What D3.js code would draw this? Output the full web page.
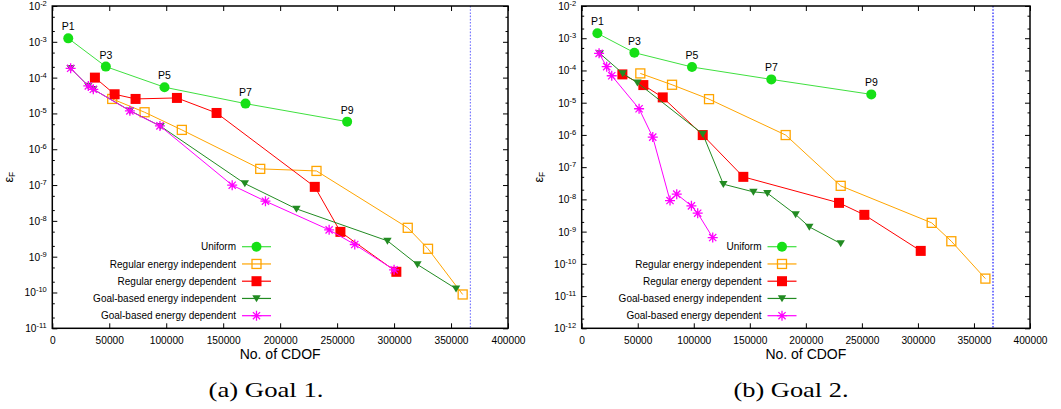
<!DOCTYPE html>
<html>
<head>
<meta charset="utf-8">
<script src="https://cdn.jsdelivr.net/npm/d3@7"></script>
<style>
  body { margin: 0; background: #fff; }
  svg { display: block; }
</style>
</head>
<body>
<svg id="chart" width="1061" height="409"></svg>
<script>
// ---------------- DATA ----------------
const seriesNames = [
  "Uniform",
  "Regular energy independent",
  "Regular energy dependent",
  "Goal-based energy independent",
  "Goal-based energy dependent"
];
const uniformLabels = ["P1", "P3", "P5", "P7", "P9"];
const xTickValues = [0, 50000, 100000, 150000, 200000, 250000, 300000, 350000, 400000];
const captions = ["(a) Goal 1.", "(b) Goal 2."];
const referenceCDOF = 367000;
const xAxisTitle = "No. of CDOF";

// Goal 1  [CDOF, error]
const goal1Uniform = [[14000, 1.25e-3], [47000, 2.03e-4], [98500, 5.4e-5], [169600, 1.88e-5], [258800, 5.9e-6]];
const goal1RegularIndep = [[52600, 2.54e-5], [81000, 1.08e-5], [113700, 3.47e-6], [182500, 2.83e-7], [231900, 2.48e-7], [312000, 6.4e-9], [329800, 1.66e-9], [360200, 8.8e-11]];
const goal1RegularDep = [[37400, 1.0e-4], [54700, 3.43e-5], [73100, 2.54e-5], [109400, 2.71e-5], [144200, 1.03e-5], [230400, 8.9e-8], [252900, 4.93e-9], [302000, 3.78e-10]];
const goal1GoalIndep = [[16100, 1.82e-4], [31600, 5.85e-5], [36000, 4.72e-5], [68100, 1.2e-5], [95000, 4.4e-6], [169000, 1.1e-7], [214300, 2.16e-8], [294200, 2.77e-9], [320500, 6.04e-10], [354400, 1.27e-10]];
const goal1GoalDep = [[16100, 1.82e-4], [31600, 5.85e-5], [36000, 4.72e-5], [68100, 1.18e-5], [94500, 4.48e-6], [157900, 9.9e-8], [187100, 3.54e-8], [243000, 5.61e-9], [265500, 2.19e-9], [300000, 4.3e-10]];

// Goal 2  [CDOF, error]
const goal2Uniform = [[14000, 1.42e-3], [47000, 3.56e-4], [98400, 1.28e-4], [169200, 5.28e-5], [258400, 1.81e-5]];
const goal2RegularIndep = [[52300, 8.1e-5], [80600, 3.6e-5], [113600, 1.29e-5], [182000, 9.9e-7], [231100, 2.63e-8], [312300, 1.87e-9], [329800, 5.03e-10], [360200, 3.48e-11]];
const goal2RegularDep = [[36300, 7.55e-5], [55000, 3.52e-5], [72300, 1.46e-5], [108000, 9.9e-7], [144200, 5.0e-8], [229600, 7.8e-9], [252200, 3.31e-9], [302500, 2.52e-10]];
const goal2GoalIndep = [[16100, 3.39e-4], [36600, 8.1e-5], [49700, 4.16e-5], [108000, 1.07e-6], [126400, 2.96e-8], [153200, 1.71e-8], [165700, 1.56e-8], [190900, 3.39e-9], [203100, 1.4e-9], [231100, 4.26e-10]];
const goal2GoalDep = [[15500, 3.39e-4], [22300, 1.31e-4], [26800, 6.86e-5], [51200, 6.49e-6], [63400, 8.55e-7], [78800, 9.2e-9], [84800, 1.45e-8], [97900, 6.3e-9], [103500, 3.72e-9], [116900, 6.55e-10]];

// ---------------- STYLE ----------------
const SANS = "'Liberation Sans', Arial, Helvetica, sans-serif";
const SERIF = "'Liberation Serif', 'Times New Roman', serif";
const seriesStyle = [
  { line: "#3fe03f", color: "#16e016", marker: "circle" },
  { line: "#ffa500", color: "#ffa500", marker: "openSquare" },
  { line: "#ff0000", color: "#ff0000", marker: "filledSquare" },
  { line: "#228b22", color: "#228b22", marker: "triangle" },
  { line: "#ff00ff", color: "#ff00ff", marker: "asterisk" }
];

const svg = d3.select("#chart");

function drawMarker(g, type, color, cx, cy) {
  if (type === "circle") {
    g.append("circle").attr("cx", cx).attr("cy", cy).attr("r", 5).attr("fill", color);
  } else if (type === "openSquare") {
    g.append("rect").attr("x", cx - 4.5).attr("y", cy - 4.5).attr("width", 9).attr("height", 9)
      .attr("fill", "none").attr("stroke", color).attr("stroke-width", 1.3);
  } else if (type === "filledSquare") {
    g.append("rect").attr("x", cx - 5).attr("y", cy - 5).attr("width", 10).attr("height", 10)
      .attr("fill", color);
  } else if (type === "triangle") {
    g.append("path").attr("d", `M${cx - 4.2},${cy - 3.2}L${cx + 4.2},${cy - 3.2}L${cx},${cy + 3.8}Z`)
      .attr("fill", color);
  } else if (type === "asterisk") {
    const r = 5, d = 3.6;
    g.append("path")
      .attr("d", `M${cx - r},${cy}L${cx + r},${cy}M${cx},${cy - r}L${cx},${cy + r}` +
                 `M${cx - d},${cy - d}L${cx + d},${cy + d}M${cx - d},${cy + d}L${cx + d},${cy - d}`)
      .attr("stroke", color).attr("stroke-width", 1.3).attr("fill", "none");
  }
}

function drawPanel(cfg) {
  const x = d3.scaleLinear().domain([0, 400000]).range([cfg.left, cfg.right]);
  const y = d3.scaleLog().domain([Math.pow(10, cfg.yMinExp), 1e-2]).range([cfg.bottom, cfg.top]);
  const g = svg.append("g");

  const majors = d3.range(cfg.yMinExp, -1).map(e => Math.pow(10, e));
  const minors = [];
  for (let e = cfg.yMinExp; e < -2; e++) {
    minors.push(2 * Math.pow(10, e), 5 * Math.pow(10, e));
  }

  const styleAxis = sel => {
    sel.select(".domain").remove();
    sel.selectAll(".tick line").attr("stroke", "#000").attr("stroke-width", 1);
  };

  // y axes (left & right), major + minor, inward
  g.append("g").attr("transform", `translate(${cfg.left},0)`)
    .call(d3.axisLeft(y).tickValues(majors).tickSize(-5).tickFormat("")).call(styleAxis);
  g.append("g").attr("transform", `translate(${cfg.left},0)`)
    .call(d3.axisLeft(y).tickValues(minors).tickSize(-2.5).tickFormat("")).call(styleAxis);
  g.append("g").attr("transform", `translate(${cfg.right},0)`)
    .call(d3.axisRight(y).tickValues(majors).tickSize(-5).tickFormat("")).call(styleAxis);
  g.append("g").attr("transform", `translate(${cfg.right},0)`)
    .call(d3.axisRight(y).tickValues(minors).tickSize(-2.5).tickFormat("")).call(styleAxis);

  // x axes (bottom with labels, top without)
  const xb = g.append("g").attr("transform", `translate(0,${cfg.bottom})`)
    .call(d3.axisBottom(x).tickValues(xTickValues).tickSize(-5).tickPadding(8.5).tickFormat(d3.format("d")))
    .call(styleAxis);
  xb.selectAll(".tick text").attr("font-family", SANS).attr("font-size", 10.2).attr("fill", "#000");
  g.append("g").attr("transform", `translate(0,${cfg.top})`)
    .call(d3.axisTop(x).tickValues(xTickValues).tickSize(-5).tickFormat("")).call(styleAxis);

  // y tick labels with superscript exponents
  majors.forEach(v => {
    const e = Math.round(Math.log10(v));
    const t = g.append("text")
      .attr("x", cfg.left - 5.5).attr("y", y(v) + 4)
      .attr("text-anchor", "end").attr("font-family", SANS).attr("font-size", 10.2).attr("fill", "#000");
    t.append("tspan").text("10");
    t.append("tspan").attr("dy", -4).attr("font-size", 7.5).text("-" + Math.abs(e));
  });

  // reference dotted line
  g.append("line")
    .attr("x1", x(referenceCDOF)).attr("x2", x(referenceCDOF))
    .attr("y1", cfg.top).attr("y2", cfg.bottom)
    .attr("stroke", cfg.refColor).attr("stroke-width", 1.2).attr("stroke-dasharray", "1.6,1.6");

  // series
  const line = d3.line().x(d => x(d[0])).y(d => y(d[1]));
  cfg.series.forEach((data, i) => {
    const st = seriesStyle[i];
    g.append("path").datum(data).attr("d", line)
      .attr("fill", "none").attr("stroke", st.line).attr("stroke-width", 1);
    const mg = g.append("g");
    data.forEach(d => drawMarker(mg, st.marker, st.color, x(d[0]), y(d[1])));
  });

  // P labels on uniform series
  cfg.series[0].forEach((d, i) => {
    g.append("text").attr("x", x(d[0])).attr("y", y(d[1]) - 8)
      .attr("text-anchor", "middle").attr("font-family", SANS).attr("font-size", 10.5)
      .attr("fill", "#000").text(uniformLabels[i]);
  });

  // border
  g.append("rect").attr("x", cfg.left).attr("y", cfg.top)
    .attr("width", cfg.right - cfg.left).attr("height", cfg.bottom - cfg.top)
    .attr("fill", "none").attr("stroke", "#000").attr("stroke-width", 1.5);

  // legend
  seriesNames.forEach((name, i) => {
    const st = seriesStyle[i];
    const ly = cfg.legendTop + i * 17.25;
    g.append("text").attr("x", cfg.legendTextEnd).attr("y", ly + 3.6)
      .attr("text-anchor", "end").attr("font-family", SANS).attr("font-size", 10)
      .attr("fill", "#000").text(name);
    g.append("line").attr("x1", cfg.legendTextEnd + 6).attr("x2", cfg.legendTextEnd + 35)
      .attr("y1", ly).attr("y2", ly).attr("stroke", st.line).attr("stroke-width", 1.2);
    drawMarker(g, st.marker, st.color, cfg.legendTextEnd + 20.5, ly);
  });

  // axis titles
  g.append("text").attr("x", (cfg.left + cfg.right) / 2).attr("y", 358.5)
    .attr("text-anchor", "middle").attr("font-family", SANS).attr("font-size", 14)
    .attr("fill", "#000").text(xAxisTitle);
  const yt = g.append("text")
    .attr("transform", `translate(${cfg.yTitleX},${(cfg.top + cfg.bottom) / 2 + 10}) rotate(-90)`)
    .attr("text-anchor", "middle").attr("font-family", SANS).attr("font-size", 12.5).attr("fill", "#000");
  yt.append("tspan").text("ε");
  yt.append("tspan").attr("dy", 2.5).attr("font-size", 8.5).text("F");

  // caption
  g.append("text").attr("x", cfg.captionX).attr("y", 397)
    .attr("text-anchor", "middle").attr("font-family", SERIF).attr("font-size", 22)
    .attr("textLength", 115).attr("lengthAdjust", "spacingAndGlyphs")
    .attr("fill", "#000").text(cfg.caption);
}

drawPanel({
  left: 52.3, right: 508, top: 6, bottom: 328.3, yMinExp: -11,
  series: [goal1Uniform, goal1RegularIndep, goal1RegularDep, goal1GoalIndep, goal1GoalDep],
  refColor: "#7b7bff", legendTextEnd: 236, legendTop: 246.7,
  yTitleX: 12.7, caption: captions[0], captionX: 266
});
drawPanel({
  left: 581.7, right: 1030, top: 6, bottom: 328.3, yMinExp: -12,
  series: [goal2Uniform, goal2RegularIndep, goal2RegularDep, goal2GoalIndep, goal2GoalDep],
  refColor: "#1a1aff", legendTextEnd: 761.5, legendTop: 246.7,
  yTitleX: 542.5, caption: captions[1], captionX: 791
});
</script>
</body>
</html>
